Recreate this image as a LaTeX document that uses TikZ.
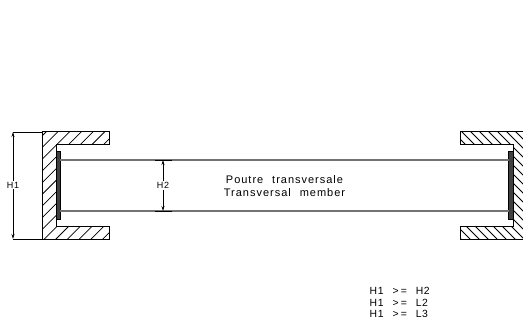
\documentclass[tikz,border=0pt]{standalone}
\usepackage{fontspec}
\setmainfont{Liberation Sans}
\newfontfamily\cadfont[LetterSpace=9,WordSpace=2.2]{Liberation Sans}
\newfontfamily\cadsmall[LetterSpace=6]{Liberation Sans}
\usetikzlibrary{arrows.meta}
\tikzset{
  x=1pt,y=-1pt,
  outline/.style={draw=black,line width=1pt,line join=miter},
  hatchline/.style={draw=black,line width=0.75pt},
  beam/.style={draw=black!55,line width=1.4pt},
  plate/.style={draw=black,fill=black!75,line width=0.6pt},
  ext/.style={draw=black,line width=0.9pt},
  dim/.style={draw=black,line width=0.8pt,{Stealth[length=5pt,width=3pt]}-{Stealth[length=5pt,width=3pt]}},
  lab/.style={inner sep=0pt,font=\cadfont\fontsize{11}{12}\selectfont,text=black,anchor=base},
  dimlab/.style={inner sep=1pt,font=\cadsmall\fontsize{9}{10}\selectfont,text=black,fill=white},
  rule/.style={inner sep=0pt,font=\cadsmall\fontsize{10.4}{11}\selectfont,text=black,anchor=base west}
}
\begin{document}
\begin{tikzpicture}
\useasboundingbox (0,0) rectangle (523,321);
% left section hatching
\begin{scope}
\clip (42.5,132) -- (109,132) -- (109,145) -- (56,145) -- (56,226) -- (109,226) -- (109,239) -- (42.5,239) -- cycle;
\foreach \a in {178,189.7,...,360}{
  \pgfmathsetmacro{\xa}{\a-120}
  \pgfmathsetmacro{\xb}{\a-250}
  \draw[hatchline] (\xa,120) -- (\xb,250);
}
\end{scope}
\draw[outline] (42.5,132) -- (109,132) -- (109,145) -- (56,145) -- (56,226) -- (109,226) -- (109,239) -- (42.5,239) -- cycle;
% right section hatching
\begin{scope}
\clip (523,132) -- (460,132) -- (460,145) -- (513,145) -- (513,226) -- (460,226) -- (460,239) -- (523,239) -- cycle;
\foreach \a in {195,204,...,420}{
  \pgfmathsetmacro{\xa}{\a+120}
  \pgfmathsetmacro{\xb}{\a+250}
  \draw[hatchline] (\xa,120) -- (\xb,250);
}
\end{scope}
\draw[outline] (523,132) -- (460,132) -- (460,145) -- (513,145) -- (513,226) -- (460,226) -- (460,239) -- (523,239);
% plates
\node[plate,minimum width=4.4pt,minimum height=68.5pt,inner sep=0pt] (pl) at (58.2,185.2) {};
\node[plate,minimum width=4.4pt,minimum height=68.5pt,inner sep=0pt] (pr) at (510.8,185.2) {};
% beam
\coordinate (t1) at (60,160); \coordinate (t2) at (509,160);
\coordinate (b1) at (60,211); \coordinate (b2) at (509,211);
\draw[beam] (t1) -- (t2);
\draw[beam] (b1) -- (b2);
% H1
\coordinate (h1t) at (13,132); \coordinate (h1b) at (13,239);
\coordinate (h1te) at (42.5,132); \coordinate (h1be) at (42.5,239);
\draw[ext] (h1t) -- (h1te);
\draw[ext] (h1b) -- (h1be);
\draw[dim] (h1t) -- (h1b);
\node[dimlab] (H1) at (13,185) {H1};
% H2
\coordinate (h2t) at (163,160); \coordinate (h2b) at (163,211);
\draw[ext] (155,160) -- (172,160);
\draw[ext] (155,211) -- (172,211);
\draw[dim] (h2t) -- (h2b);
\node[dimlab] (H2) at (163,185.5) {H2};
% text
\node[lab] (t1l) at (284.5,183) {Poutre transversale};
\node[lab] (t2l) at (284.5,196.5) {Transversal member};
\node[rule] (r1) at (369.5,294.5) {H1\hspace{9pt}{\addfontfeature{LetterSpace=20}>=}\hspace{9pt}H2};
\node[rule] (r2) at (369.5,306) {H1\hspace{9pt}{\addfontfeature{LetterSpace=20}>=}\hspace{9pt}L2};
\node[rule] (r3) at (369.5,317.5) {H1\hspace{9pt}{\addfontfeature{LetterSpace=20}>=}\hspace{9pt}L3};
\end{tikzpicture}
\end{document}
